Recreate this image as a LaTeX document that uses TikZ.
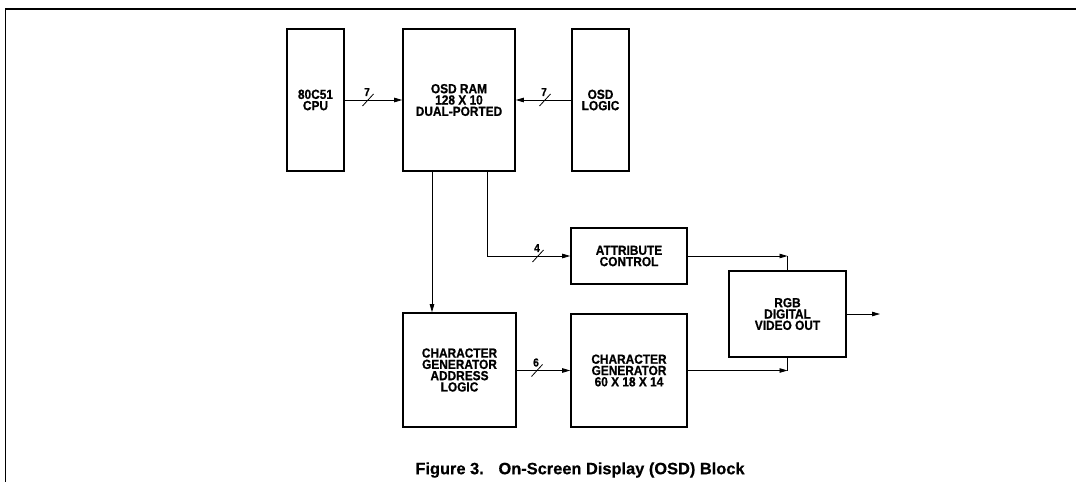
\documentclass[tikz,border=0pt]{standalone}
\usepackage{fontspec}
\setmainfont{Liberation Sans}
\newfontfamily\boxfont{Liberation Sans}[FakeStretch=0.9,FakeBold=0.8]
\newfontfamily\capfont{Liberation Sans}[FakeBold=0.5]
\usetikzlibrary{arrows.meta,calc}
\begin{document}
\begin{tikzpicture}[x=1pt,y=-1pt,
  blk/.style={draw,line width=1.6pt,inner sep=0pt,align=center,
    font=\boxfont\fontsize{13.2}{11.3}\selectfont\bfseries},
  conn/.style={line width=0.8pt},
  arr/.style={conn,-{Triangle[length=8pt,width=4.5pt]}},
  pics/bus/.style={code={
    \draw[line width=0.8pt] (-5.5,6) -- (5.5,-6);
    \node[font=\boxfont\fontsize{11.5}{11}\selectfont\bfseries,inner sep=0pt] at (-1,-8) {#1};
  }}]
\useasboundingbox (0,0) rectangle (1076,482);
% partial frame (top and left edges)
\draw[line width=1.6pt] (1076,9) -- (5.5,9) -- (5.5,482);

\node[blk,minimum width=57pt,minimum height=142pt] (cpu) at (315.5,100) {80C51\\CPU};
\node[blk,minimum width=112pt,minimum height=142pt] (ram) at (459,100) {OSD RAM\\128 X 10\\DUAL-PORTED};
\node[blk,minimum width=57pt,minimum height=142pt] (logic) at (600.5,100) {OSD\\LOGIC};
\node[blk,minimum width=116pt,minimum height=56pt] (attr) at (629,256) {ATTRIBUTE\\CONTROL};
\node[blk,minimum width=113pt,minimum height=114pt] (cgal) at (459.5,370) {CHARACTER\\GENERATOR\\ADDRESS\\LOGIC};
\node[blk,minimum width=116pt,minimum height=113pt] (chargen) at (629,370.5) {CHARACTER\\GENERATOR\\60 X 18 X 14};
\node[blk,minimum width=117pt,minimum height=86pt] (rgb) at (787.5,314) {RGB\\DIGITAL\\VIDEO OUT};
\coordinate (out) at (880,314);

% connectors
\draw[arr] (cpu) -- (ram);
\draw[arr] (logic) -- (ram);
\draw[arr] ([xshift=-27pt]ram.south) -- ([xshift=-27pt]ram.south |- cgal.north);
\draw[arr] ([xshift=28pt]ram.south) |- (attr.west);
\draw[arr] (cgal.east |- chargen.west) -- (chargen.west);
\draw[arr] (attr.east) -- (attr.east -| rgb.north);
\draw[conn] (attr.east -| rgb.north) -- (rgb.north);
\draw[arr] (chargen.east) -- (chargen.east -| rgb.south);
\draw[conn] (chargen.east -| rgb.south) -- (rgb.south);
\draw[arr] (rgb.east) -- (out);

% bus width markers
\pic at (368,100) {bus=7};
\pic at (545,100) {bus=7};
\pic at (538,256) {bus=4};
\pic at (537,370.5) {bus=6};

\node[font=\capfont\fontsize{16.4}{16}\selectfont\bfseries] (cap) at (580,470) {Figure 3.\hspace{0.9em}On-Screen Display (OSD) Block};
\end{tikzpicture}
\end{document}
